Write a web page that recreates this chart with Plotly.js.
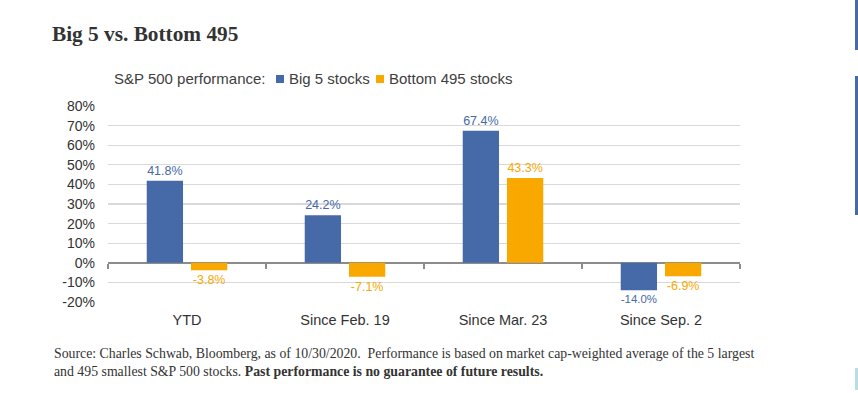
<!DOCTYPE html>
<html>
<head>
<meta charset="utf-8">
<script src="https://cdn.plot.ly/plotly-3.0.1.min.js"></script>
<style>
html,body{margin:0;padding:0;background:#fff;}
#chart{width:858px;height:393px;}
</style>
</head>
<body>
<div id="chart"></div>
<script>
const categories = ["YTD", "Since Feb. 19", "Since Mar. 23", "Since Sep. 2"];
const big5 = [41.8, 24.2, 67.4, -14.0];
const bottom495 = [-3.8, -7.1, 43.3, -6.9];
const seriesNames = ["Big 5 stocks", "Bottom 495 stocks"];
const legendTitle = "S&P 500 performance:";
const yTicks = [-20, -10, 0, 10, 20, 30, 40, 50, 60, 70, 80];

const BLUE = "#4669A8";
const ORANGE = "#F9A800";
const SANS = "Liberation Sans, Arial, sans-serif";
const SERIF = "Liberation Serif, DejaVu Serif, serif";

function pct(v){ return v.toFixed(1) + "%"; }

const traces = [
  {
    type: "bar", name: seriesNames[0], x: categories, y: big5,
    marker: {color: BLUE},
    text: big5.map(pct), textposition: "outside", cliponaxis: false,
    textfont: {family: SANS, size: 12.5, color: BLUE},
    hoverinfo: "skip", showlegend: false
  },
  {
    type: "bar", name: seriesNames[1], x: categories, y: bottom495,
    marker: {color: ORANGE},
    text: bottom495.map(pct), textposition: "outside", cliponaxis: false,
    textfont: {family: SANS, size: 12.5, color: ORANGE},
    hoverinfo: "skip", showlegend: false
  },
  {
    type: "scatter", mode: "none", x: categories, y: categories.map(() => null),
    xaxis: "x2", showlegend: false, hoverinfo: "skip"
  }
];

const X0 = 108, PW = 632, Y0 = 106, PH = 196;
function px2x(p){ return (p - X0) / PW; }
function py2y(p){ return (Y0 + PH - p) / PH; }

const legendY = py2y(78);
const legFont = {family: SANS, size: 15, color: "#404040"};

const layout = {
  width: 858, height: 393,
  margin: {l: X0, r: 858 - X0 - PW, t: Y0, b: 393 - Y0 - PH, pad: 0},
  paper_bgcolor: "#fff", plot_bgcolor: "#fff",
  font: {family: SANS, size: 14, color: "#404040"},
  title: {
    text: "<b>Big 5 vs. Bottom 495</b>",
    font: {family: SERIF, size: 21.3, color: "#333"},
    x: 52 / 858, xanchor: "left", xref: "container",
    y: (393 - 34) / 393, yanchor: "middle", yref: "container"
  },
  barmode: "group",
  bargap: 0.44,
  bargroupgap: 0.18,
  showlegend: false,
  xaxis: {
    type: "category",
    showgrid: false, showline: false, zeroline: false,
    ticks: "", tickfont: {size: 14.5, color: "#333"},
    ticklabelstandoff: 7,
    fixedrange: true
  },
  xaxis2: {
    matches: "x", overlaying: "x", anchor: "free", position: 0.2, side: "bottom",
    showgrid: false, showline: false, zeroline: false,
    ticks: "outside", tickson: "boundaries", ticklen: 5, tickcolor: "#8C8C8C", tickwidth: 1.5,
    showticklabels: false
  },
  yaxis: {
    range: [-20, 80], tickvals: yTicks, ticktext: yTicks.map(v => v + "%"),
    showgrid: true, gridcolor: "#D9D9D9", gridwidth: 1.3,
    zeroline: true, zerolinecolor: "#8C8C8C", zerolinewidth: 1.5,
    showline: false, ticks: "", ticklabelstandoff: 12,
    tickfont: {size: 14, color: "#333"},
    fixedrange: true
  },
  annotations: [
    {xref: "paper", yref: "paper", x: px2x(112), xanchor: "left", y: legendY, yanchor: "middle",
     showarrow: false, text: legendTitle, font: legFont},
    {xref: "paper", yref: "paper", x: px2x(287), xanchor: "left", y: legendY, yanchor: "middle",
     showarrow: false, text: seriesNames[0], font: legFont},
    {xref: "paper", yref: "paper", x: px2x(387), xanchor: "left", y: legendY, yanchor: "middle",
     showarrow: false, text: seriesNames[1], font: legFont},
    {
      xref: "paper", yref: "paper",
      x: px2x(52), xanchor: "left",
      y: py2y(344), yanchor: "top",
      align: "left", showarrow: false,
      text: "Source: Charles Schwab, Bloomberg, as of 10/30/2020.  Performance is based on market cap-weighted average of the 5 largest<br>and 495 smallest S&P 500 stocks. <b>Past performance is no guarantee of future results.</b>",
      font: {family: SERIF, size: 13.8, color: "#333"}
    }
  ],
  shapes: [
    {type: "rect", xref: "paper", yref: "paper", x0: px2x(276), x1: px2x(284), y0: py2y(75), y1: py2y(83), fillcolor: BLUE, line: {width: 0}},
    {type: "rect", xref: "paper", yref: "paper", x0: px2x(376), x1: px2x(384), y0: py2y(75), y1: py2y(83), fillcolor: ORANGE, line: {width: 0}},
    {type: "rect", xref: "paper", yref: "paper", x0: px2x(855), x1: px2x(858), y0: py2y(0), y1: py2y(50), fillcolor: BLUE, line: {width: 0}},
    {type: "rect", xref: "paper", yref: "paper", x0: px2x(855), x1: px2x(858), y0: py2y(76), y1: py2y(215), fillcolor: BLUE, line: {width: 0}},
    {type: "rect", xref: "paper", yref: "paper", x0: px2x(855), x1: px2x(858), y0: py2y(368), y1: py2y(390), fillcolor: "#BADDE3", line: {width: 0}}
  ]
};

Plotly.newPlot("chart", traces, layout, {staticPlot: true, displayModeBar: false});
</script>
</body>
</html>
